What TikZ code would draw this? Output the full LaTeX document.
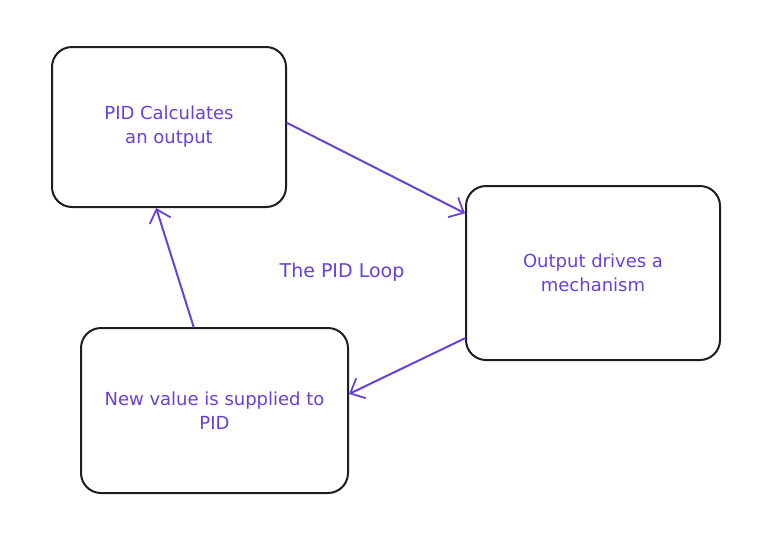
\documentclass[tikz,border=0pt]{standalone}
\usepackage{fontspec}
\setmainfont{DejaVu Sans}
\usepackage{tikz}
\usetikzlibrary{arrows.meta}
\definecolor{loopviolet}{HTML}{6741D9}
\definecolor{inkblack}{HTML}{1E1E1E}
\tikzset{>={Straight Barb[length=12pt,width=22pt,line width=1.8pt]}}
\tikzset{
  stagebox/.style={draw=inkblack, line width=2pt, rounded corners=20pt,
    text=loopviolet, align=center, inner sep=0pt, font=\fontsize{18}{24}\selectfont},
  flow/.style={->, draw=loopviolet, line width=2pt, line cap=round}
}

\begin{document}
\begin{tikzpicture}[x=1pt, y=-1pt]

  \useasboundingbox (0,0) rectangle (766,542);

  \node[stagebox, minimum width=234pt, minimum height=160pt] (calc) at (169,127)
    {PID Calculates\\an output};
  \node[stagebox, minimum width=254pt, minimum height=174pt] (drive) at (593,273)
    {Output drives a\\mechanism};
  \node[stagebox, minimum width=267pt, minimum height=165pt] (feed) at (214.5,410.5)
    {New value is supplied to\\PID};

  \node[text=loopviolet, font=\fontsize{19}{24}\selectfont] (title) at (342,272) {The PID Loop};

  \draw[flow] (calc.2) -- (drive.155); %% calc->drive
  \draw[flow] (drive.207) -- (feed.7); %% drive->feed
  \draw[flow] (feed.104) -- (calc.261); %% feed->calc

\end{tikzpicture}
\end{document}
